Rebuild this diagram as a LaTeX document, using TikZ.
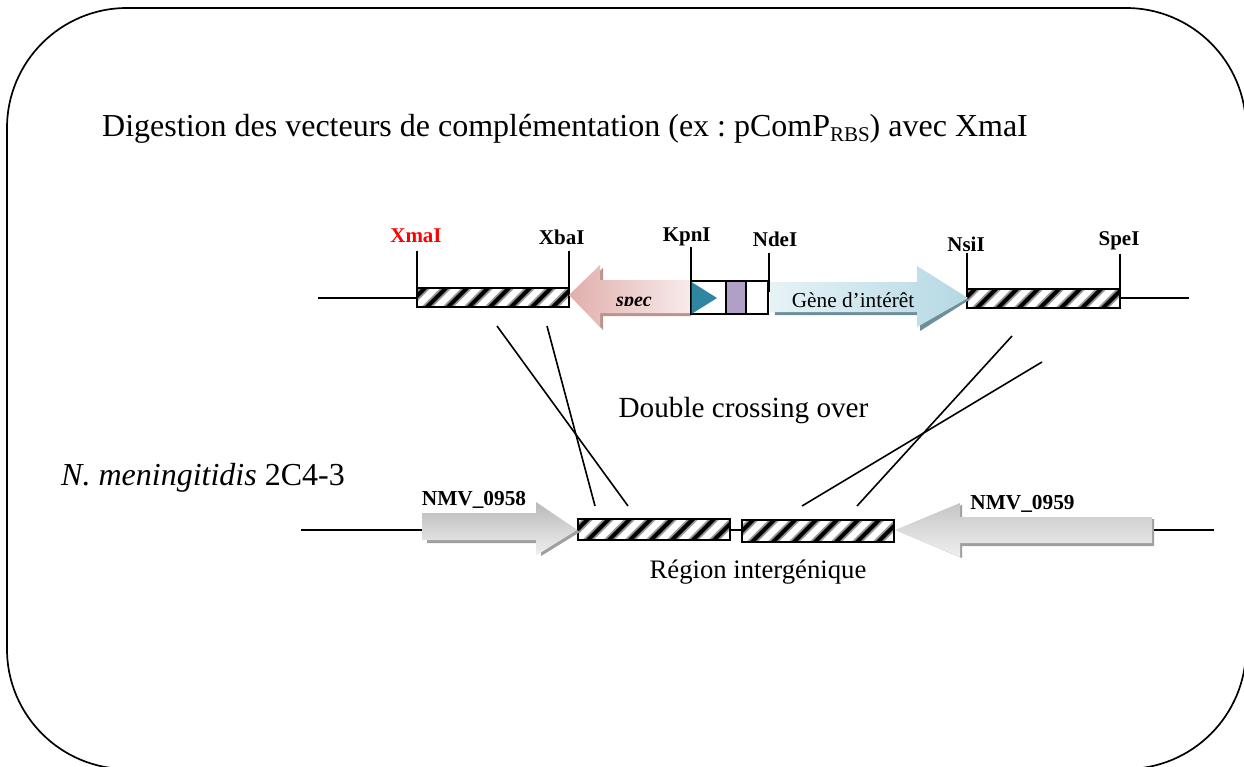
\documentclass[tikz,border=0pt]{standalone}
\usepackage{fontspec}
\setmainfont{Liberation Serif}
\usetikzlibrary{calc}
\definecolor{tealtri}{HTML}{2E86A0}
\definecolor{purplebox}{HTML}{B0A0C8}
\definecolor{specl}{HTML}{E0AFAB}
\definecolor{specr}{HTML}{F8ECEC}
\definecolor{specs}{HTML}{B8958F}
\definecolor{genel}{HTML}{E6F3F6}
\definecolor{gener}{HTML}{B5D8E3}
\definecolor{genes}{HTML}{6F8F98}
\tikzset{
  dna/.style={line width=1.7pt,black},
  tick/.style={line width=1.7pt,black},
  cross/.style={line width=1.6pt,black},
  site/.style={font=\fontsize{21}{24}\bfseries\selectfont,inner sep=0pt,anchor=base},
  gene/.style={font=\fontsize{21.3}{24}\bfseries\selectfont,inner sep=0pt,anchor=base},
  big/.style={font=\fontsize{32}{36}\selectfont,inner sep=0pt},
  mid/.style={font=\fontsize{26.7}{30}\selectfont,inner sep=0pt,anchor=base},
  outline/.style={line width=1.7pt,black},
}
\frenchspacing
% hatched box: name, x0, y0, x1, y1
\newcommand{\hatchbox}[5]{%
  \begin{scope}
    \clip (#2,#3) rectangle (#4,#5);
    \fill[white] (#2,#3) rectangle (#4,#5);
    \foreach \k in {0,...,8}{
      \draw[line width=8pt,black!40] ({#2-14+\k*21},#5+3) -- ({#2-14+\k*21+(#5-#3)+6},#3-3);
      \draw[line width=4pt,black] ({#2-14+\k*21},#5+3) -- ({#2-14+\k*21+(#5-#3)+6},#3-3);
    }
  \end{scope}
  \node[draw,line width=2pt,outer sep=0pt,minimum width={(#4-#2)*1pt},minimum height={(#5-#3)*1pt},inner sep=0pt,anchor=north west] (#1) at (#2,#3) {};
}
\begin{document}
\begin{tikzpicture}[x=1pt,y=-1pt]
\useasboundingbox (0,0) rectangle (1244,766);
\fill[white] (0,0) rectangle (1244,766);
\begin{scope}
\clip (0,0) rectangle (1244,766);
\draw[outline,rounded corners=120pt] (7,8) rectangle (1246,769);
\end{scope}

\node[big,anchor=base west] (title) at (102,136) {Digestion des vecteurs de complémentation (ex : pComP\raisebox{-5pt}{\fontsize{21}{21}\selectfont RBS}) avec XmaI};

% upper construct
\coordinate (ul) at (318,298);
\coordinate (ur) at (1189,298);
\hatchbox{hA}{417}{288}{569}{307}
\hatchbox{hB}{967}{289}{1120}{308}
\draw[dna] (ul) -- (ul -| hA.west);
\draw[dna] (ur -| hB.east) -- (ur);

% spec arrow
\fill[specs] (572,297) -- (603,268) -- (603,283) -- (691,283) -- (691,316) -- (603,316) -- (603,330) -- cycle;
\shade[left color=specl,right color=specr]
  (569,295) -- (600,265) -- (600,280) -- (691,280) -- (691,313) -- (600,313) -- (600,327) -- cycle;
\begin{scope}
\clip (600,285) rectangle (690,305.5);
\node[font=\fontsize{20}{24}\bfseries\itshape\selectfont,inner sep=0pt,anchor=base] (spec) at (634,306) {spec};
\end{scope}

% gene arrow
\fill[genes] (773,285) -- (920,285) -- (920,269) -- (969,300) -- (920,331) -- (920,315) -- (775,315) -- cycle;
\shade[left color=genel,right color=gener]
  (770,282) -- (917,282) -- (917,266) -- (968,298) -- (917,327) -- (917,312) -- (770,312) -- cycle;
\node[font=\fontsize{21.3}{24}\selectfont,inner sep=0pt,anchor=base] (gi) at (853,307) {Gène d’intérêt};

% cassette
\node[draw,line width=1.8pt,fill=white,outer sep=0pt,minimum width=77pt,minimum height=33pt,inner sep=0pt,anchor=north west] (cass) at (691,281) {};
\fill[tealtri] (691.5,282) -- (717,298) -- (691.5,314) -- cycle;
\node[draw,line width=1.8pt,fill=purplebox,outer sep=0pt,minimum width=20pt,minimum height=33pt,inner sep=0pt,anchor=north west] (purp) at (726,281) {};

% sites
\node[site,text=red] (xma) at (416,242.7) {XmaI};
\node[site] (xba) at (561.7,244) {XbaI};
\node[site] (kpn) at (686.7,241.7) {KpnI};
\node[site] (nde) at (775,246) {NdeI};
\node[site] (nsi) at (966,251.7) {NsiI};
\node[site] (spe) at (1119,245) {SpeI};
\coordinate (txma) at (417,251);
\coordinate (txba) at (569,251);
\coordinate (tkpn) at (691,247);
\coordinate (tnde) at (769,253);
\coordinate (tnsi) at (967,253);
\coordinate (tspe) at (1120,254);
\draw[tick] (txma) -- (hA.north west);
\draw[tick] (txba) -- (hA.north east);
\draw[tick] (tkpn) -- (cass.north west);
\draw[tick] (tnde) -- (769,292);
\draw[tick] (tnsi) -- (hB.north west);
\draw[tick] (tspe) -- (hB.north east);

\node[big,font=\fontsize{29.2}{32}\selectfont,anchor=base] (dco) at (743.5,417) {Double crossing over};
\node[big,anchor=base west] (nm) at (61,485) {\textit{N. meningitidis} 2C4-3};

% lower
\coordinate (ll) at (301,530);
\coordinate (lr) at (1214,530);
\hatchbox{hC}{578}{519}{730}{540}
\hatchbox{hD}{742}{520}{894}{542}
\draw[dna] (hC.east |- ll) -- (hD.west |- ll);

\draw[dna] (ll) -- (422,530);
\draw[dna] (1152,530) -- (lr);

% NMV 0958
\fill[gray!75] (427,516) -- (541,516) -- (541,506) -- (580,532) -- (541,556) -- (541,543) -- (427,543) -- cycle;
\shade[top color=gray!55,bottom color=gray!12]
  (422,513) -- (536,513) -- (536,502) -- (577,530) -- (540,553) -- (536,555) -- (536,540) -- (422,540) -- cycle;
\node[gene] (n58) at (474,505) {NMV\_0958};

% NMV 0959
\fill[gray!75] (898,531) -- (962,505) -- (962,519) -- (1154,519) -- (1154,546) -- (962,546) -- (962,558) -- cycle;
\shade[top color=gray!45,bottom color=gray!12]
  (895,530) -- (960,503) -- (960,517) -- (1152,517) -- (1152,543) -- (960,543) -- (960,557) -- cycle;
\node[gene] (n59) at (1022.5,509) {NMV\_0959};

\node[mid] (reg) at (758,578) {Région intergénique};

% crossings
\coordinate (a1) at (497,326); \coordinate (a2) at (628,506);
\coordinate (b1) at (547,326); \coordinate (b2) at (595,506);
\coordinate (c1) at (1012,336); \coordinate (c2) at (857,506);
\coordinate (d1) at (1042,362); \coordinate (d2) at (802,506);
\draw[cross] (a1) -- (a2);
\draw[cross] (b1) -- (b2);
\draw[cross] (c1) -- (c2);
\draw[cross] (d1) -- (d2);
\end{tikzpicture}
\end{document}
